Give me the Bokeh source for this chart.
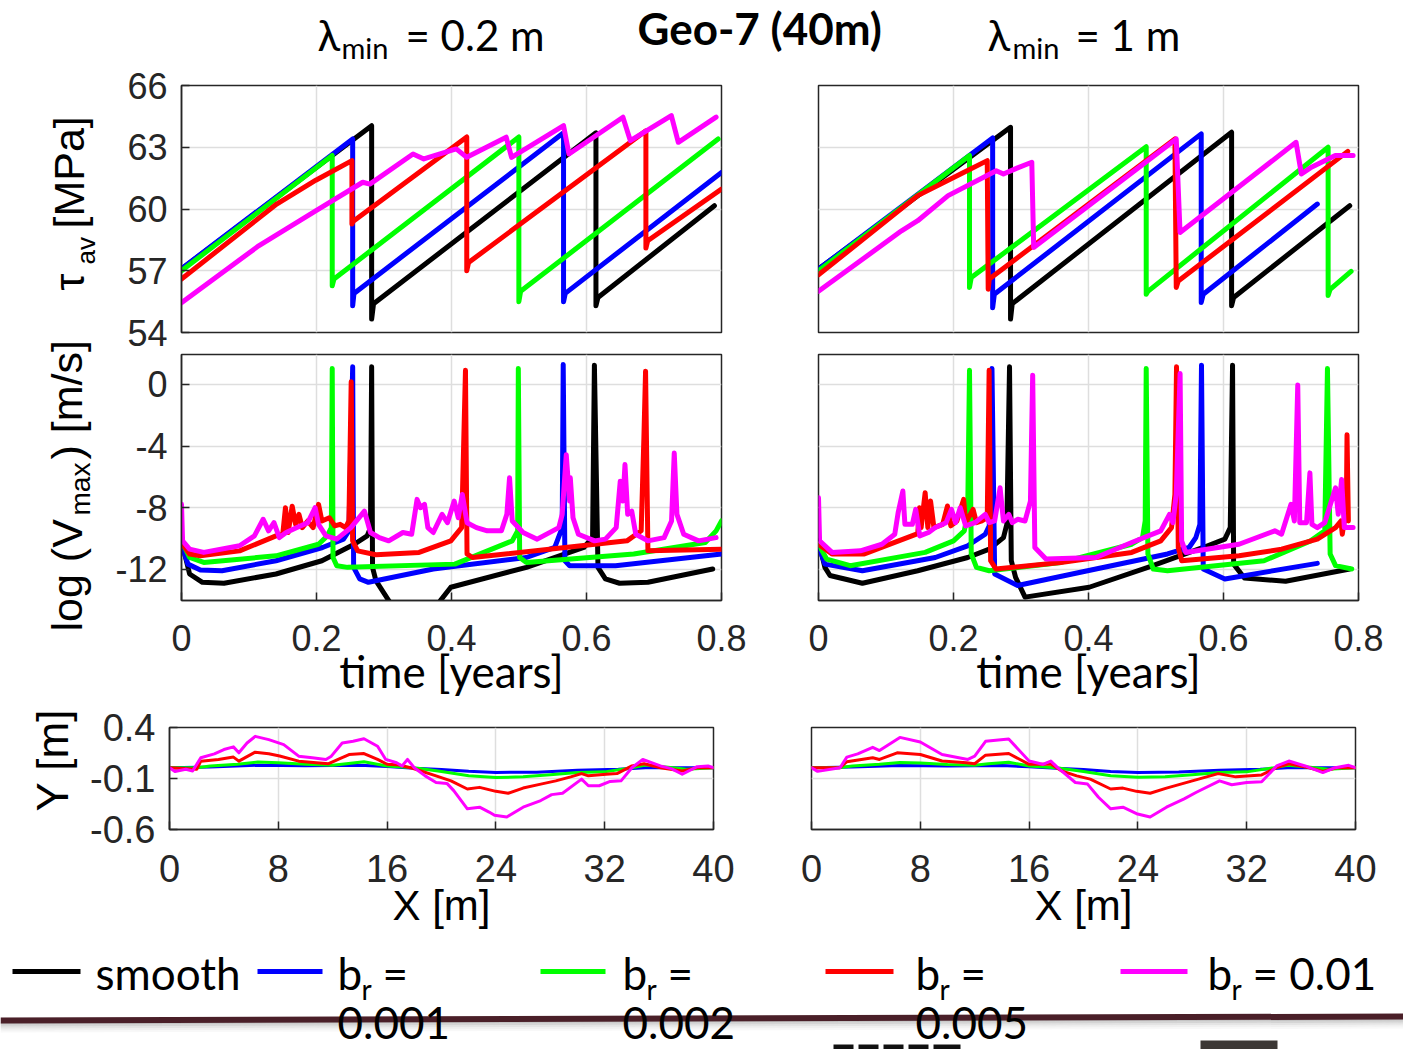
import math
from bokeh.plotting import figure
from bokeh.layouts import column, row
from bokeh.models import Range1d, FixedTicker, Label
from bokeh.embed import file_html
from bokeh.resources import INLINE

# ---------------- data ----------------
time_ticks = [0, 0.2, 0.4, 0.6, 0.8]
time_tick_labels = ["0", "0.2", "0.4", "0.6", "0.8"]
tau_ticks = [54, 57, 60, 63, 66]
tau_tick_labels = ["54", "57", "60", "63", "66"]
logv_ticks = [-12, -8, -4, 0]
logv_tick_labels = ["-12", "-8", "-4", "0"]
x_ticks = [0, 8, 16, 24, 32, 40]
x_tick_labels = ["0", "8", "16", "24", "32", "40"]
y_ticks = [-0.6, -0.1, 0.4]
y_tick_labels = ["-0.6", "-0.1", "0.4"]

series_keys = ["black", "blue", "green", "red", "mag"]
series_colors = ["#000000", "#0000ff", "#00ff00", "#ff0000", "#ff00ff"]
legend_numbers = ["", "0.001", "0.002", "0.005", "0.01"]

# --- shear stress, lambda_min = 0.2 m (top-left)
tl_t_black = [0, 0.2817, 0.2817, 0.2845, 0.614, 0.614, 0.617, 0.7895]
tl_v_black = [57.08, 64.05, 54.65, 55.4, 63.7, 55.3, 55.7, 60.16]
tl_t_blue = [0, 0.2536, 0.2536, 0.2555, 0.566, 0.566, 0.5685, 0.8]
tl_v_blue = [57.1, 63.4, 55.3, 55.9, 63.7, 55.5, 55.9, 61.78]
tl_t_green = [0, 0.2233, 0.2233, 0.2259, 0.4998, 0.4998, 0.5024, 0.795]
tl_v_green = [57.0, 62.6, 56.27, 56.6, 63.5, 55.5, 56.0, 63.4]
tl_t_red = [0, 0.141, 0.199, 0.2525, 0.2525, 0.2545, 0.4226, 0.4226, 0.4253, 0.688, 0.688, 0.6907, 0.8]
tl_v_red = [56.6, 60.24, 61.4, 62.35, 59.27, 59.4, 63.5, 57.0, 57.4, 63.8, 58.1, 58.46, 60.97]
tl_t_mag = [0, 0.1143, 0.1994, 0.2685, 0.279, 0.343, 0.359, 0.407, 0.4226, 0.481, 0.489,
            0.566, 0.574, 0.654, 0.665, 0.7257, 0.736, 0.792]
tl_v_mag = [55.45, 58.21, 59.92, 61.30, 61.21, 62.67, 62.43, 62.92, 62.51, 63.49, 62.51,
            64.05, 62.67, 64.46, 63.32, 64.54, 63.24, 64.46]

# --- shear stress, lambda_min = 1 m (top-right)
tr_t_black = [0, 0.2845, 0.2845, 0.287, 0.612, 0.612, 0.615, 0.787]
tr_v_black = [57.08, 63.97, 54.65, 55.4, 63.73, 55.3, 55.7, 60.16]
tr_t_blue = [0, 0.258, 0.258, 0.2605, 0.567, 0.567, 0.570, 0.739]
tr_v_blue = [57.08, 63.45, 55.2, 55.86, 63.65, 55.46, 55.86, 60.24]
tr_t_green = [0, 0.2237, 0.2237, 0.2263, 0.4855, 0.4855, 0.488, 0.755, 0.755, 0.758, 0.789]
tr_v_green = [57.0, 62.6, 56.19, 56.67, 63.03, 55.86, 56.0, 63.0, 55.8, 56.1, 56.97]
tr_t_red = [0, 0.147, 0.2105, 0.250, 0.2514, 0.253, 0.528, 0.530, 0.533, 0.784]
tr_v_red = [56.8, 60.65, 61.7, 62.35, 56.1, 56.6, 63.4, 56.19, 56.5, 62.8]
tr_t_mag = [0, 0.123, 0.147, 0.192, 0.2633, 0.274, 0.295, 0.316, 0.3188, 0.530, 0.5356,
            0.7075, 0.7154, 0.7287, 0.7656, 0.792]
tr_v_mag = [56.0, 58.94, 59.43, 60.65, 61.86, 61.7, 62.0, 62.27, 58.13, 63.4, 58.86,
            63.24, 61.7, 62.0, 62.6, 62.6]

# --- log slip rate, lambda_min = 0.2 m (middle-left)
ml_t_black = [0, 0.012, 0.031, 0.063, 0.140, 0.208, 0.256, 0.275, 0.280, 0.2817, 0.283, 0.288, 0.307,
              0.32, 0.37, 0.3836, 0.399, 0.511, 0.596, 0.609, 0.6117, 0.617, 0.628, 0.649, 0.691, 0.787]
ml_v_black = [-10.15, -12.3, -12.84, -12.9, -12.3, -11.44, -10.37, -9.83, -9.3, 1.14, -11.87, -12.73, -14.02,
              -15.0, -15.0, -14.02, -13.16, -11.87, -10.58, -9.94, 1.25, -11.87, -12.62, -12.9, -12.84, -11.98]
ml_t_blue = [0, 0.0095, 0.028, 0.06, 0.140, 0.209, 0.240, 0.248, 0.2536, 0.255, 0.264, 0.277, 0.373,
             0.511, 0.553, 0.564, 0.5655, 0.568, 0.575, 0.643, 0.8]
ml_v_blue = [-10.37, -11.66, -12.04, -12.09, -11.44, -10.58, -10.04, -9.5, 1.14, -11.87, -12.62, -12.84, -11.98,
             -11.23, -10.58, -9.29, 1.29, -11.44, -11.76, -11.76, -11.0]
ml_t_green = [0, 0.012, 0.033, 0.140, 0.203, 0.216, 0.222, 0.2233, 0.2245, 0.230, 0.246, 0.405, 0.490,
              0.498, 0.499, 0.501, 0.511, 0.670, 0.776, 0.792, 0.8]
ml_v_green = [-10.15, -11.23, -11.55, -11.12, -10.37, -9.83, -9.29, 1.03, -11.23, -11.76, -11.87, -11.66, -10.15,
              -9.5, 1.03, -11.23, -11.55, -11.0, -10.26, -9.5, -8.86]
ml_t_red = [0, 0.012, 0.028, 0.086, 0.140, 0.150, 0.154, 0.158, 0.164, 0.169, 0.174, 0.179, 0.187, 0.195,
            0.203, 0.208, 0.219, 0.227, 0.235, 0.243, 0.248, 0.2514, 0.2535, 0.261, 0.288, 0.352, 0.399,
            0.415, 0.4207, 0.423, 0.431, 0.660, 0.681, 0.685, 0.6875, 0.691, 0.8]
ml_v_red = [-10.26, -11.0, -11.12, -10.8, -9.83, -9.72, -8.0, -9.61, -7.9, -9.08, -8.43, -9.29, -8.86, -9.29,
            -7.78, -8.86, -8.65, -9.18, -9.08, -9.29, -8.86, 0.17, -10.15, -10.8, -11.05, -10.9, -10.15,
            -9.29, 0.92, -11.0, -11.23, -10.15, -9.5, -3.5, 0.86, -10.8, -10.69]
ml_t_mag = [0, 0.0016, 0.012, 0.033, 0.086, 0.108, 0.121, 0.129, 0.137, 0.145,
            0.155, 0.171, 0.187, 0.198, 0.203, 0.214, 0.230, 0.251, 0.271, 0.280,
            0.293, 0.307, 0.328, 0.341, 0.349, 0.354, 0.360, 0.365, 0.373, 0.386,
            0.394, 0.404, 0.410, 0.416, 0.423, 0.437, 0.453, 0.474, 0.482, 0.486,
            0.490, 0.506, 0.527, 0.559, 0.564, 0.570, 0.575, 0.576, 0.580, 0.588,
            0.612, 0.628, 0.644, 0.650, 0.654, 0.657, 0.661, 0.667, 0.673, 0.691,
            0.715, 0.726, 0.730, 0.734, 0.744, 0.766, 0.792]
ml_v_mag = [-7.78, -10.15, -10.69, -10.9, -10.47, -9.83, -8.75, -9.5, -8.97, -9.94,
            -9.61, -9.29, -8.97, -8.0, -9.08, -9.83, -10.04, -9.29, -8.22, -9.61,
            -9.94, -10.15, -9.61, -9.72, -7.46, -8.0, -7.78, -9.29, -9.61, -8.43,
            -8.97, -7.57, -8.65, -7.14, -8.97, -9.29, -9.5, -9.5, -8.43, -6.06,
            -8.86, -9.61, -10.04, -9.29, -8.43, -4.56, -7.57, -6.06, -8.65, -9.72,
            -10.15, -10.04, -9.29, -6.28, -7.57, -5.2, -8.43, -8.22, -9.72, -10.15,
            -9.94, -8.86, -4.45, -8.43, -9.72, -10.15, -9.94]

# --- log slip rate, lambda_min = 1 m (middle-right)
mr_t_black = [0, 0.0095, 0.017, 0.065, 0.147, 0.221, 0.253, 0.274, 0.279, 0.283, 0.2856, 0.292, 0.306,
              0.401, 0.488, 0.570, 0.602, 0.610, 0.6134, 0.615, 0.631, 0.692, 0.787]
mr_v_black = [-10.15, -11.87, -12.4, -12.9, -12.09, -11.23, -10.69, -9.94, -9.08, 1.14, -11.44, -12.52, -13.8,
              -13.16, -11.87, -10.58, -10.04, -9.29, 1.25, -11.66, -12.56, -12.77, -11.98]
mr_t_blue = [0, 0.0095, 0.065, 0.173, 0.221, 0.247, 0.253, 0.257, 0.261, 0.295, 0.411, 0.517, 0.549,
             0.559, 0.565, 0.5674, 0.570, 0.602, 0.739]
mr_v_blue = [-10.47, -11.66, -12.09, -11.23, -10.47, -9.72, -9.18, 1.03, -12.3, -13.05, -11.98, -11.0, -10.58,
             -9.94, -9.08, 1.25, -11.98, -12.62, -11.61]
mr_t_green = [0, 0.012, 0.047, 0.158, 0.200, 0.216, 0.221, 0.2237, 0.2263, 0.234, 0.253, 0.359, 0.464,
              0.480, 0.484, 0.4855, 0.488, 0.496, 0.517, 0.660, 0.729, 0.750, 0.754, 0.758, 0.766, 0.790]
mr_v_green = [-10.37, -11.33, -11.76, -10.9, -10.15, -9.5, -8.43, 0.92, -11.0, -11.87, -12.09, -11.55, -10.37,
              -9.94, -8.86, 1.03, -11.0, -11.98, -12.09, -11.44, -10.15, -9.5, 1.03, -11.0, -11.76, -11.98]
mr_t_red = [0, 0.020, 0.068, 0.147, 0.1497, 0.152, 0.158, 0.162, 0.166, 0.171, 0.184, 0.191, 0.196, 0.205,
            0.215, 0.218, 0.229, 0.234, 0.242, 0.250, 0.2528, 0.255, 0.263, 0.359, 0.464, 0.507, 0.523,
            0.528, 0.5304, 0.533, 0.538, 0.623, 0.686, 0.739, 0.766, 0.774, 0.776, 0.782, 0.783, 0.785]
mr_v_red = [-10.37, -11.0, -11.0, -9.68, -8.0, -9.29, -7.03, -9.29, -7.57, -9.29, -9.08, -7.89, -9.18, -8.86,
            -7.46, -8.97, -8.11, -8.97, -8.86, -8.65, 0.92, -11.44, -11.98, -11.55, -10.9, -10.15, -9.29,
            -7.14, 1.14, -10.58, -11.44, -11.12, -10.69, -10.04, -9.29, -8.86, -9.72, -8.0, -3.27, -8.86]
mr_t_mag = [0, 0.0016, 0.020, 0.062, 0.094, 0.113, 0.118, 0.125, 0.128, 0.139,
            0.144, 0.150, 0.163, 0.173, 0.189, 0.197, 0.203, 0.210, 0.218, 0.232,
            0.247, 0.253, 0.261, 0.269, 0.274, 0.282, 0.287, 0.295, 0.306, 0.314,
            0.3173, 0.3205, 0.337, 0.411, 0.464, 0.507, 0.520, 0.525, 0.530, 0.5357,
            0.538, 0.544, 0.623, 0.676, 0.686, 0.700, 0.705, 0.710, 0.713, 0.723,
            0.728, 0.731, 0.739, 0.750, 0.766, 0.770, 0.775, 0.779, 0.792]
mr_v_mag = [-7.35, -10.15, -10.9, -10.8, -10.37, -9.72, -8.32, -6.92, -9.08, -9.08,
            -8.11, -9.83, -9.61, -9.29, -8.97, -8.11, -8.97, -8.0, -9.18, -8.97,
            -8.43, -8.97, -8.86, -6.71, -8.86, -8.43, -8.97, -8.75, -8.86, -7.57,
            0.6, -10.58, -11.33, -11.23, -10.26, -9.5, -8.43, -8.97, -7.14, 0.71,
            -10.15, -10.9, -10.37, -9.5, -9.72, -7.78, -8.86, -0.04, -8.97, -8.97,
            -5.74, -9.08, -9.29, -8.97, -6.71, -8.43, -6.17, -9.29, -9.29]

# --- fault profiles Y(X), lambda_min = 0.2 m (bottom-left)
bl_x_blue = [0, 3, 6.5, 10, 14, 16, 18, 20, 22, 24, 27, 30, 33, 35, 38, 40]
bl_y_blue = [0.006, 0.012, 0.03, 0.025, 0.029, 0.018, 0.0, -0.012, -0.03, -0.04, -0.038, -0.02, -0.01, 0.005, 0.006, 0.006]
bl_x_green = [0, 2, 3, 5, 6.5, 8, 10, 12, 13, 14.3, 16, 18, 20, 22, 24, 26, 28, 30, 32, 34, 35, 36.5, 38, 40]
bl_y_green = [0.006, 0.006, 0.022, 0.04, 0.061, 0.055, 0.039, 0.029, 0.045, 0.064, 0.022, 0.006, -0.032, -0.074,
              -0.09, -0.084, -0.064, -0.042, -0.035, 0.006, 0.032, 0.013, -0.01, 0.006]
bl_x_red = [0, 2, 2.3, 3.6, 4.7, 5.1, 6.3, 7.3, 8.1, 9.5, 10.8, 11.7, 12.4, 13.2, 14.3, 15.3, 16, 16.9, 17.7,
            18.5, 19.6, 20.7, 21.9, 22.8, 24, 24.9, 26, 27.3, 28.4, 29.5, 30.3, 30.8, 32.1, 32.9, 34, 34.9,
            36.1, 37.7, 38.8, 40]
bl_y_red = [0.006, -0.01, 0.07, 0.087, 0.11, 0.07, 0.158, 0.142, 0.12, 0.07, 0.055, 0.045, 0.087, 0.135, 0.145,
            0.087, 0.04, 0.032, 0.006, -0.026, -0.074, -0.123, -0.203, -0.187, -0.226, -0.245, -0.194, -0.155,
            -0.123, -0.084, -0.052, -0.074, -0.058, -0.052, 0.023, 0.045, 0.006, -0.026, 0.006, 0.006]
bl_x_mag = [0, 0.4, 1.2, 1.7, 2.3, 3.3, 4, 4.7, 5.1, 5.7, 6.3, 7.3, 8.4, 9.5, 10.5, 11.5, 11.9, 12.7, 13.5,
            14.3, 15.3, 15.9, 16.7, 17.1, 17.5, 18, 18.8, 19.6, 20.4, 20.9, 21.9, 22.8, 23.5, 23.9, 24.8, 26,
            27.3, 28.1, 28.9, 30.3, 30.8, 31.6, 32.4, 33.2, 34, 34.8, 36.1, 36.9, 37.7, 38.8, 39.6, 40]
bl_y_mag = [0.006, -0.032, -0.01, -0.026, 0.103, 0.142, 0.184, 0.21, 0.152, 0.248, 0.313, 0.281, 0.232, 0.119,
            0.103, 0.087, 0.119, 0.248, 0.265, 0.29, 0.216, 0.087, 0.055, 0.023, 0.087, 0.006, -0.074, -0.139,
            -0.148, -0.219, -0.397, -0.381, -0.429, -0.461, -0.477, -0.381, -0.316, -0.258, -0.245, -0.106,
            -0.171, -0.171, -0.129, -0.123, 0.006, 0.087, 0.023, -0.003, -0.058, 0.016, 0.023, 0.006]

# --- fault profiles Y(X), lambda_min = 1 m (bottom-right)
br_x_blue = [0, 3, 6.5, 10, 14, 16, 18, 20, 22, 24, 27, 30, 33, 35, 38, 40]
br_y_blue = [0.006, 0.012, 0.028, 0.022, 0.027, 0.016, 0.0, -0.012, -0.032, -0.04, -0.036, -0.02, -0.01, 0.005, 0.006, 0.006]
br_x_green = [0, 2, 3, 5, 6.5, 8, 10, 12, 13, 14.5, 16, 18, 20, 22, 24, 26, 28, 30, 32, 34, 35, 36.5, 38, 40]
br_y_green = [0.006, 0.006, 0.022, 0.04, 0.058, 0.052, 0.037, 0.029, 0.045, 0.06, 0.022, 0.006, -0.032, -0.074,
              -0.088, -0.084, -0.064, -0.042, -0.035, 0.006, 0.03, 0.013, -0.01, 0.006]
br_x_red = [0, 2.1, 2.6, 4.5, 5, 6.3, 8, 9.6, 11.4, 12, 12.8, 14.5, 16, 17.6, 18.4, 19.5, 20.5, 22, 22.9, 23.9,
            24.9, 26.1, 28, 29.9, 31.2, 33.1, 34.2, 35.1, 36.6, 37.6, 38.6, 40]
br_y_red = [0.006, 0.006, 0.065, 0.103, 0.087, 0.152, 0.135, 0.071, 0.055, 0.045, 0.129, 0.145, 0.039, 0.039,
            -0.026, -0.074, -0.106, -0.203, -0.194, -0.226, -0.245, -0.194, -0.123, -0.052, -0.084, -0.065,
            0.006, 0.045, 0.006, -0.032, 0.006, 0.006]
br_x_mag = [0, 0.45, 2.1, 2.6, 3.4, 4.5, 5, 6.5, 8, 9.6, 11.5, 12, 12.8, 14.5, 16, 17, 17.6, 18.1, 19.4, 20.3,
            21.1, 22, 22.9, 23.9, 24.9, 26.1, 27.4, 28.3, 30, 30.9, 32, 33.1, 34.2, 35.1, 36.3, 37.6, 38.5, 39.5, 40]
br_y_mag = [0.006, -0.03, 0.006, 0.11, 0.142, 0.206, 0.174, 0.303, 0.258, 0.135, 0.087, 0.119, 0.265, 0.287,
            0.071, 0.039, 0.071, 0.006, -0.139, -0.155, -0.284, -0.397, -0.381, -0.445, -0.477, -0.381, -0.3,
            -0.235, -0.123, -0.161, -0.139, -0.132, 0.023, 0.071, 0.023, -0.042, 0.006, 0.029, 0.006]

# ---------------- styling helpers ----------------
AX = "#262626"
GRID = "#dedede"
TICK_FONT = "Liberation Sans"
LABEL_FONT = "Lato"
BASE_K = 0.38   # empirical shift of Label text below its anchor (fraction of font size)


def panel(w, h, bl, br, bt, bb, xr, yr, xt, xtl, yt, ytl, show_x, show_y, fs,
          xlabel=None, xlabel_font=LABEL_FONT, xlabel_size="44px", xlabel_standoff=-9, x_so=24):
    p = figure(width=w, height=h, x_range=Range1d(*xr), y_range=Range1d(*yr), title=None,
               output_backend="svg", toolbar_location=None,
               min_border_left=bl, min_border_right=br, min_border_top=bt, min_border_bottom=bb)
    p.background_fill_color = "white"
    p.border_fill_color = "white"
    p.outline_line_color = AX
    p.outline_line_width = 1.5
    p.outline_line_alpha = 1.0
    p.xgrid.ticker = FixedTicker(ticks=xt)
    p.ygrid.ticker = FixedTicker(ticks=yt)
    for g in (p.xgrid, p.ygrid):
        g.grid_line_color = GRID
        g.grid_line_width = 1.5
    for ax, ticks, labels, show, so in ((p.xaxis, xt, xtl, show_x, x_so), (p.yaxis, yt, ytl, show_y, 14)):
        ax.ticker = FixedTicker(ticks=ticks)
        ax.major_label_overrides = {t: l for t, l in zip(ticks, labels)}
        ax.axis_line_color = AX
        ax.axis_line_width = 1.5
        ax.major_tick_line_color = AX
        ax.major_tick_line_width = 1.5
        ax.major_tick_in = 8
        ax.major_tick_out = 0
        ax.minor_tick_line_color = None
        ax.major_label_text_font = TICK_FONT
        ax.major_label_text_font_size = fs
        ax.major_label_text_color = AX
        ax.major_label_standoff = so
        ax.visible = show
    if xlabel:
        p.xaxis.axis_label = xlabel
        p.xaxis.axis_label_text_font = xlabel_font
        p.xaxis.axis_label_text_font_size = xlabel_size
        p.xaxis.axis_label_text_font_style = "normal"
        p.xaxis.axis_label_text_color = "black"
        p.xaxis.axis_label_standoff = xlabel_standoff
    return p


def draw(p, data, prefix, xs, ys, lw, keys=series_keys):
    for k in keys:
        c = series_colors[series_keys.index(k)]
        p.line(data[f"{prefix}_{xs}_{k}"], data[f"{prefix}_{ys}_{k}"], line_color=c,
               line_width=lw, line_join="round", line_cap="round")


def canvas(w, h, x0, y0):
    p = figure(width=w, height=h, x_range=Range1d(x0, x0 + w), y_range=Range1d(y0 + h, y0),
               title=None, x_axis_type=None, y_axis_type=None, output_backend="svg",
               toolbar_location=None, min_border=0, min_border_left=0, min_border_right=0,
               min_border_top=0, min_border_bottom=0)
    p.outline_line_color = None
    p.background_fill_color = "white"
    p.border_fill_color = "white"
    return p


def txt(p, x, y, s, font=LABEL_FONT, size=42, angle=0, style="normal", color="black"):
    # (x, y) is the wanted baseline start in page pixels
    if angle == 0:
        y = y - BASE_K * size
    else:
        x = x - BASE_K * size
    p.add_layout(Label(x=x, y=y, text=s, text_font=font, text_font_size=f"{size}px", angle=angle,
                       text_font_style=style, text_color=color, text_align="left",
                       text_baseline="alphabetic"))


G = globals()
ROT = math.pi / 2

# ---------------- title strip (page y 0..64) ----------------
title_fig = canvas(1403, 64, 0, 0)
txt(title_fig, 317, 50, "λ")
txt(title_fig, 341, 58, "min", size=29)
txt(title_fig, 405, 50, "= 0.2 m")
txt(title_fig, 637, 44, "Geo-7 (40m)", size=44, style="bold")
txt(title_fig, 987, 50, "λ")
txt(title_fig, 1012, 58, "min", size=29)
txt(title_fig, 1075, 50, "= 1 m")

# ---------------- left label column (rows A and B, page y 64..705) ----------------
labAB = canvas(100, 641, 0, 64)
txt(labAB, 85, 290, "τ", font=TICK_FONT, size=43, angle=ROT)
txt(labAB, 95, 264, "av", font=TICK_FONT, size=26, angle=ROT)
txt(labAB, 85, 228, "[MPa]", font=TICK_FONT, size=43, angle=ROT)
txt(labAB, 83, 631, "log (V", font=TICK_FONT, size=43, angle=ROT)
txt(labAB, 91, 515, "max", font=TICK_FONT, size=28, angle=ROT)
txt(labAB, 83, 459, ") [m/s]", font=TICK_FONT, size=43, angle=ROT)

# ---------------- row A: shear stress (page y 64..353) ----------------
tl = panel(660, 289, 81, 39, 21, 21, (0, 0.8), (54, 66), time_ticks, time_tick_labels,
           tau_ticks, tau_tick_labels, False, True, "36px")
draw(tl, G, "tl", "t", "v", 5)
tr = panel(643, 289, 58, 45, 21, 21, (0, 0.8), (54, 66), time_ticks, time_tick_labels,
           tau_ticks, tau_tick_labels, False, False, "36px")
draw(tr, G, "tr", "t", "v", 5)

# ---------------- row B: log slip rate (page y 353..705) ----------------
ml = panel(660, 352, 81, 39, 1, 105, (0, 0.8), (-14.02, 1.94), time_ticks, time_tick_labels,
           logv_ticks, logv_tick_labels, True, True, "36px", xlabel="time [years]")
draw(ml, G, "ml", "t", "v", 5)
mr = panel(643, 352, 58, 45, 1, 105, (0, 0.8), (-14.02, 1.94), time_ticks, time_tick_labels,
           logv_ticks, logv_tick_labels, True, False, "36px", xlabel="time [years]")
draw(mr, G, "mr", "t", "v", 5)

# ---------------- row C: fault profiles (page y 705..942) ----------------
prof_keys = ["blue", "green", "red", "mag"]
bl = panel(760, 237, 169, 47, 22, 113, (0, 40), (-0.6, 0.4), x_ticks, x_tick_labels,
           y_ticks, y_tick_labels, True, True, "38px", xlabel="X [m]", xlabel_font=TICK_FONT,
           xlabel_size="42px", xlabel_standoff=-3, x_so=25)
bl.yaxis.axis_label = "\u00a0\u00a0\u00a0Y [m]"
bl.yaxis.axis_label_text_font = TICK_FONT
bl.yaxis.axis_label_text_font_size = "44px"
bl.yaxis.axis_label_text_font_style = "normal"
bl.yaxis.axis_label_text_color = "black"
bl.yaxis.axis_label_standoff = 10
draw(bl, G, "bl", "x", "y", 3, prof_keys)
br = panel(643, 237, 51, 48, 22, 113, (0, 40), (-0.6, 0.4), x_ticks, x_tick_labels,
           y_ticks, y_tick_labels, True, False, "38px", xlabel="X [m]", xlabel_font=TICK_FONT,
           xlabel_size="42px", xlabel_standoff=-3, x_so=25)
draw(br, G, "br", "x", "y", 3, prof_keys)

# ---------------- legend strip (page y 942..1049) ----------------
leg = canvas(1403, 107, 0, 942)
sw_x0 = [12, 257, 540, 825, 1120]
sw_x1 = [80, 322, 605, 893, 1187]
leg.segment(x0=sw_x0, y0=[971] * 5, x1=sw_x1, y1=[971] * 5, line_color=series_colors, line_width=5)
txt(leg, 95, 989, "smooth", size=44)
for xb, num in zip([337, 622, 915], legend_numbers[1:4]):
    txt(leg, xb, 989, "b", size=44)
    txt(leg, xb + 24, 999, "r", size=28)
    txt(leg, xb + 45, 989, "=", size=44)
    txt(leg, xb, 1039, num, size=44)
txt(leg, 1207, 989, "b", size=44)
txt(leg, 1231, 999, "r", size=28)
txt(leg, 1252, 989, "= " + legend_numbers[4], size=44)
# slide divider bar with shadow, and cut-off footer items
for i, a in enumerate([0.35, 0.25, 0.16, 0.09, 0.04]):
    leg.patch(x=[0, 1403, 1403, 0], y=[1022 + 2 * i, 1018 + 2 * i, 1020 + 2 * i, 1024 + 2 * i],
              fill_color="#555555", fill_alpha=a, line_color=None)
leg.patch(x=[0, 1403, 1403, 0], y=[1017, 1013, 1019, 1023], fill_color="#4a1f28", line_color=None)
leg.quad(left=[833, 858, 883, 908, 933], right=[853, 878, 903, 928, 960], top=[1044] * 5,
         bottom=[1049] * 5, fill_color="#111111", line_color=None)
leg.quad(left=[1200], right=[1277], top=[1040], bottom=[1049], fill_color="#3c3835", line_color=None)

layout = column(title_fig,
                row(labAB, column(row(tl, tr), row(ml, mr))),
                row(bl, br),
                leg)

open("out.html", "w").write(file_html(layout, INLINE))
